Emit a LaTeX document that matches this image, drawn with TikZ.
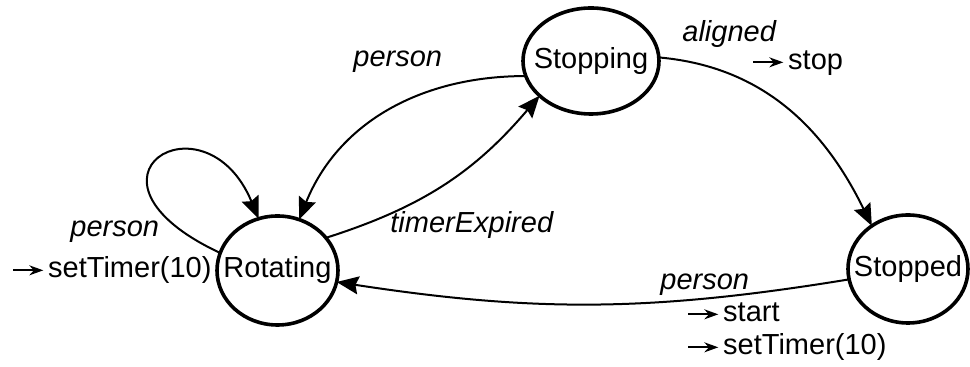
\documentclass[tikz,border=0pt]{standalone}
\usepackage{fontspec}
\setmainfont{Liberation Sans}
\usetikzlibrary{arrows.meta,shapes.geometric}

% small action arrow placed in front of an action label
\newcommand{\actarrow}{\tikz[baseline=-0.5ex]\draw[line width=0.9pt,-{Stealth[length=7pt,width=5pt]}] (0,0) -- (15pt,0);\hspace{2pt}}
% state name whose width does not enlarge the ellipse
\newcommand{\statename}[1]{\makebox[0pt]{#1}}

\tikzset{
  statenode/.style={draw, ellipse, line width=1.8pt, inner sep=0pt, outer sep=0pt},
  trans/.style={draw, line width=1pt, -{Stealth[length=11pt,width=9pt,inset=1.5pt]}},
  guard/.style={anchor=base west, inner sep=0pt, font=\fontsize{14.5}{17}\selectfont\itshape},
  action/.style={anchor=base west, inner sep=0pt, font=\fontsize{14.5}{17}\selectfont},
}

\begin{document}
\begin{tikzpicture}[x=0.5pt, y=-0.5pt, font=\fontsize{14.5}{17}\selectfont]
\useasboundingbox (0,0) rectangle (970,367);

% states (sizes in pt: half the drawing unit)
\node[statenode, minimum width=60.5pt, minimum height=54.5pt] (rot) at (277.5,270.5) {\statename{Rotating}};
\node[statenode, minimum width=68pt, minimum height=53pt] (stp) at (591,61) {\statename{Stopping}};
\node[statenode, minimum width=60pt, minimum height=54pt] (std) at (908,269) {\statename{Stopped}};

% transitions
\draw[trans] (rot.163) .. controls (60,178) and (205,90) .. (rot.110);
\draw[trans] (rot.34) to[bend right=16] (stp.214);
\draw[trans] (stp.193) to[out=180, in=68] (rot.67);
\draw[trans] (stp.3) to[out=-5, in=116] (std.130);
\draw[trans] (std.190) to[bend left=9] (rot.349);

% guards and actions
\node[guard] (g1) at (70,237) {person};
\node[action] (a1) at (12,278) {\actarrow setTimer(10)};
\node[guard] (g2) at (390,233) {timerExpired};
\node[guard] (g3) at (353,67) {person};
\node[guard] (g4) at (682,42) {aligned};
\node[action] (a4) at (752,70) {\actarrow stop};
\node[guard] (g5) at (660,290) {person};
\node[action] (a5) at (687,322) {\actarrow start};
\node[action] (a6) at (687,355) {\actarrow setTimer(10)};
\end{tikzpicture}
\end{document}
